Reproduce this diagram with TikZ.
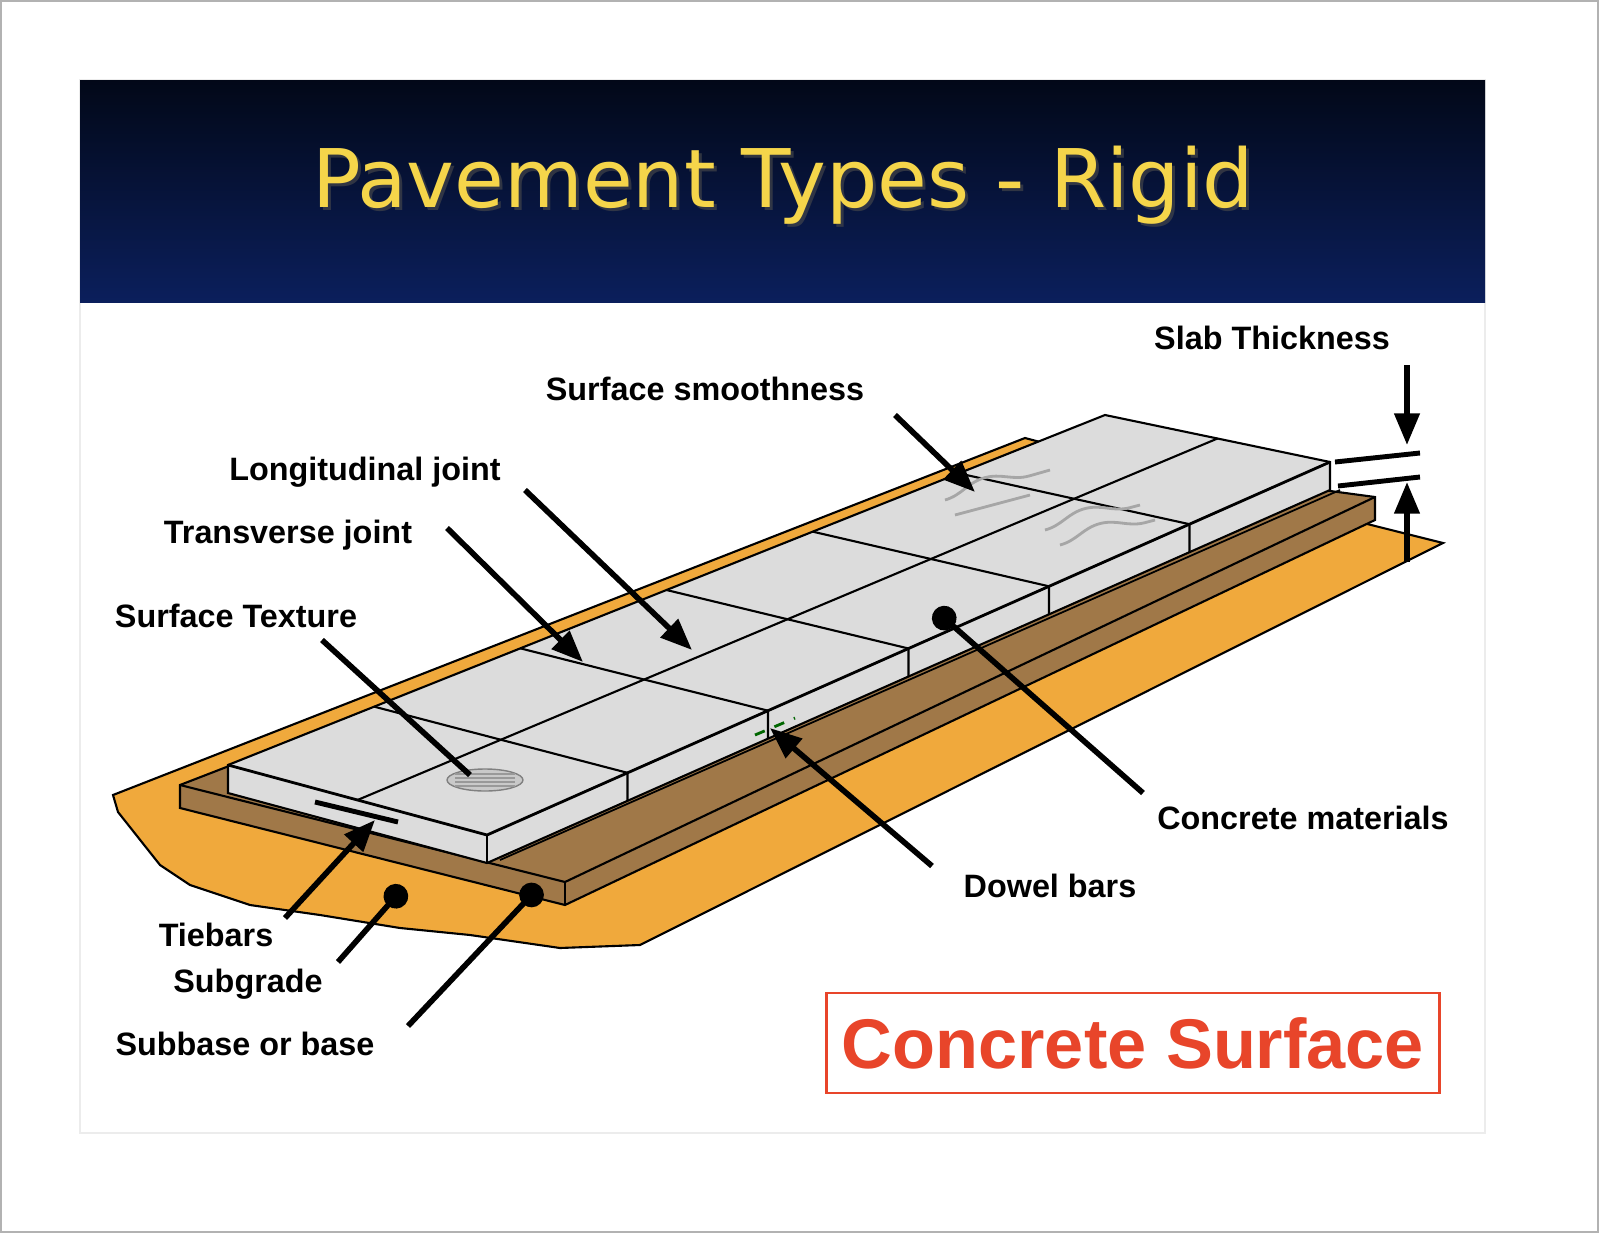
\documentclass[tikz,border=0pt]{standalone}
\usepackage{fontspec}
\setmainfont{Liberation Sans}
\newfontfamily\titlefont{DejaVu Sans}
\usetikzlibrary{calc,arrows.meta,decorations.pathmorphing}
\definecolor{navy}{HTML}{0B1F5C}
\definecolor{navytop}{HTML}{020818}
\definecolor{ttl}{HTML}{F5D54A}
\definecolor{sg}{HTML}{F0A93C}
\definecolor{sb}{HTML}{A07848}
\definecolor{slab}{HTML}{DCDCDC}
\definecolor{redc}{HTML}{E8452A}
\tikzset{
 lbl/.style={font=\fontsize{9.2}{11}\selectfont\bfseries,inner sep=0pt},
 ptr/.style={line width=1.6pt,-{Triangle[length=9pt,width=7pt]}},
 dotp/.style={line width=1.6pt,-{Circle[length=7pt]}},
 edge/.style={line width=0.8pt,black},
}
\begin{document}
\begin{tikzpicture}[x=0.01cm,y=-0.01cm]
\useasboundingbox (0,0) rectangle (1599,1233);
\fill[white] (0,0) rectangle (1599,1233);
\draw[gray!60] (1,1) rectangle (1598,1232);
\draw[gray!15] (80,80) rectangle (1485,1133);
\shade[top color=navytop,bottom color=navy] (80,80) rectangle (1485,302);
\node[font=\titlefont\fontsize{23}{26}\selectfont,text=black!70,opacity=0.6] at (786,188) {Pavement Types - Rigid};
\node (title) [font=\titlefont\fontsize{23}{26}\selectfont,text=ttl] at (783,185) {Pavement Types - Rigid};
% subgrade
\fill[sg,draw=black,line width=0.6pt] (113,795) -- (1025,438) -- (1040,442) -- (1443,543) -- (640,945) -- (560,948) -- (470,935) -- (400,928) -- (320,915) -- (250,905) -- (190,885) -- (160,865) -- (118,812) -- cycle;
% subbase
\fill[sb,draw=black,line width=0.6pt] (180,785) -- (1040,452) -- (1375,497) -- (1375,520) -- (565,905) -- (180,808) -- cycle;
\draw[black,line width=0.6pt] (180,785) -- (565,882) -- (1375,497);
\draw[black,line width=0.6pt] (565,882) -- (565,905);
\draw[black,line width=0.5pt] (500,860) -- (1340,490);
% slabs
\coordinate (L1) at (228,765); \coordinate (L2) at (487,835);
\coordinate (R1) at (1105,415); \coordinate (R2) at (1330,462);
\fill[slab,draw=black,line width=0.6pt] (L1) -- ++(0,28) -- ($(L2)+(0,28)$) -- ($(R2)+(0,28)$) -- (R2) -- (R1) -- cycle;
\draw[edge] (L1) -- (L2) -- (R2);
\draw[edge] (L2) -- ++(0,28);
\foreach \t in {0.1667,0.3333,0.5,0.6667,0.8333}{
 \draw[edge,line width=0.6pt] ($(L1)!\t!(R1)$) -- ($(L2)!\t!(R2)$) -- ++(0,28);}
\draw[edge,line width=0.6pt] ($(L1)!0.5!(L2)$) -- ($(R1)!0.5!(R2)$);
% texture & smoothness
\draw[gray,fill=slab!80!gray] (485,780) ellipse (38 and 11);
\foreach \d in {-6,-2,2,6}{\draw[gray!80,line width=0.4pt] (455,780+\d) -- (515,780+\d);}
\draw[gray!70,line width=0.8pt,decorate,decoration={snake,amplitude=3,segment length=40}] (945,500) -- (1050,470);
\draw[gray!70,line width=0.8pt,decorate,decoration={snake,amplitude=3,segment length=40}] (955,515) -- (1030,495);
\draw[gray!70,line width=0.8pt,decorate,decoration={snake,amplitude=3,segment length=40}] (1045,530) -- (1140,505);
\draw[gray!70,line width=0.8pt,decorate,decoration={snake,amplitude=3,segment length=40}] (1060,545) -- (1155,520);
% bars
\draw[green!40!black,dashed,line width=0.8pt] (755,735) -- (795,718);
\draw[black,line width=1.4pt] (315,802) -- (398,822);
% labels
\node[lbl] (st) at (1272,338) {Slab Thickness};
\node[lbl] (ss) at (705,389) {Surface smoothness};
\node[lbl] (lj) at (365,472) {Longitudinal joint};
\node[lbl] (tj) at (288,535) {Transverse joint};
\node[lbl] (tx) at (236,616) {Surface Texture};
\node[lbl] (cm) at (1303,818) {Concrete materials};
\node[lbl] (db) at (1050,886) {Dowel bars};
\node[lbl] (tb) at (216,935) {Tiebars};
\node[lbl] (sgl) at (248,984) {Subgrade};
\node[lbl] (sbl) at (245,1044) {Subbase or base};
% thickness marks
\coordinate (t1) at (1407,365); \coordinate (t2) at (1407,445);
\coordinate (t3) at (1407,562); \coordinate (t4) at (1407,482);
\draw[ptr] (t1) -- (t2); \draw[ptr] (t3) -- (t4);
\draw[line width=1.4pt] (1335,462) -- (1420,453);
\draw[line width=1.4pt] (1338,486) -- (1420,477);
% pointers
\coordinate (a1) at (895,415); \coordinate (b1) at (975,492);
\draw[ptr] (a1) -- (b1);
\coordinate (a2) at (525,490); \coordinate (b2) at (692,650);
\draw[ptr] (a2) -- (b2);
\coordinate (a3) at (447,528); \coordinate (b3) at (583,662);
\draw[ptr] (a3) -- (b3);
\coordinate (a4) at (322,640); \coordinate (b4) at (470,775);
\draw[line width=1.6pt] (a4) -- (b4);
\coordinate (a5) at (1143,793); \coordinate (b5) at (935,610);
\draw[dotp] (a5) -- (b5);
\coordinate (a6) at (932,866); \coordinate (b6) at (770,728);
\draw[ptr] (a6) -- (b6);
\coordinate (a7) at (285,918); \coordinate (b7) at (375,820);
\draw[ptr] (a7) -- (b7);
\coordinate (a8) at (338,962); \coordinate (b8) at (404,887);
\draw[dotp] (a8) -- (b8);
\coordinate (a9) at (408,1026); \coordinate (b9) at (540,886);
\draw[dotp] (a9) -- (b9);
% concrete surface
\node (cs) [draw=redc,line width=0.8pt,minimum width=6.12cm,minimum height=1.0cm,text=redc,font=\fontsize{20}{24}\selectfont\bfseries] at (1133,1043) {Concrete Surface};
\end{tikzpicture}
\end{document}
